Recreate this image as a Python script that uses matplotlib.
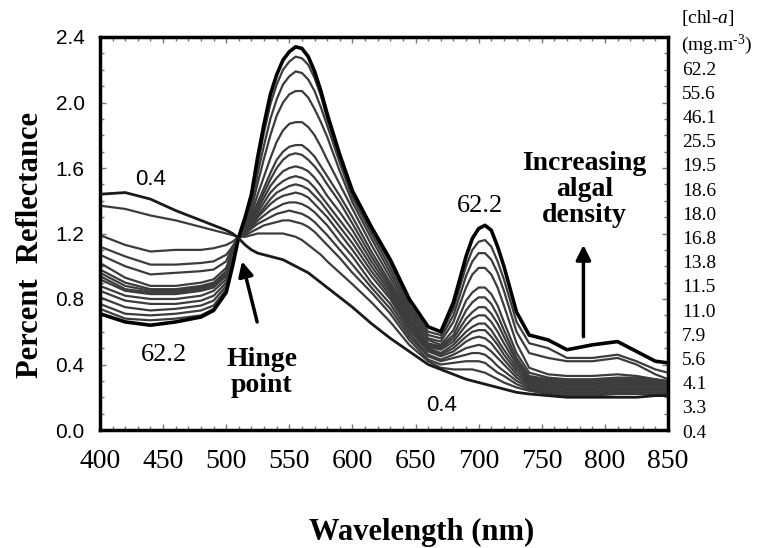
import matplotlib
matplotlib.use('Agg')
import matplotlib.pyplot as plt
from matplotlib.ticker import MultipleLocator

plt.rcParams['font.family'] = 'Liberation Serif'
plt.rcParams['mathtext.fontset'] = 'custom'
plt.rcParams['mathtext.rm'] = 'Liberation Serif'
plt.rcParams['mathtext.it'] = 'Liberation Serif:italic'

# wavelength grid (nm)
wavelength = [400, 420, 440, 460, 480, 490, 500, 505, 510, 515, 520, 525,
              530, 535, 540, 545, 550, 555, 560, 565, 570, 575, 580, 590,
              600, 615, 630, 645, 660, 670, 680, 690, 695, 700, 705, 710,
              715, 720, 730, 740, 755, 770, 790, 810, 825, 840, 850]

# chl-a concentrations (mg.m-3), legend order top to bottom
chl_labels = ['62.2', '55.6', '46.1', '25.5', '19.5', '18.6', '18.0', '16.8',
              '13.8', '11.5', '11.0', '7.9', '5.6', '4.1', '3.3', '0.4']

# percent reflectance for each concentration
r_62_2 = [0.71, 0.66, 0.64, 0.66, 0.69, 0.73, 0.84, 1.00, 1.18, 1.30, 1.44, 1.67,
          1.87, 2.05, 2.17, 2.26, 2.31, 2.34, 2.33, 2.28, 2.19, 2.07, 1.93, 1.68,
          1.46, 1.24, 1.04, 0.80, 0.63, 0.60, 0.78, 1.06, 1.17, 1.23, 1.25, 1.22,
          1.12, 1.00, 0.72, 0.58, 0.55, 0.49, 0.52, 0.54, 0.48, 0.42, 0.41]
r_55_6 = [0.74, 0.68, 0.67, 0.68, 0.70, 0.74, 0.85, 1.01, 1.18, 1.29, 1.41, 1.62,
          1.82, 1.99, 2.11, 2.20, 2.25, 2.28, 2.27, 2.23, 2.15, 2.04, 1.90, 1.66,
          1.44, 1.22, 1.02, 0.77, 0.60, 0.58, 0.74, 1.00, 1.10, 1.15, 1.16, 1.12,
          1.03, 0.92, 0.66, 0.53, 0.50, 0.44, 0.44, 0.46, 0.42, 0.37, 0.35]
r_46_1 = [0.77, 0.71, 0.70, 0.71, 0.73, 0.76, 0.86, 1.02, 1.18, 1.28, 1.38, 1.57,
          1.74, 1.90, 2.02, 2.11, 2.16, 2.19, 2.18, 2.14, 2.07, 1.97, 1.86, 1.63,
          1.42, 1.20, 0.99, 0.75, 0.58, 0.56, 0.70, 0.94, 1.03, 1.08, 1.08, 1.04,
          0.96, 0.85, 0.60, 0.47, 0.44, 0.42, 0.42, 0.44, 0.40, 0.34, 0.31]
r_25_5 = [0.81, 0.75, 0.73, 0.74, 0.76, 0.79, 0.88, 1.03, 1.18, 1.26, 1.35, 1.51,
          1.66, 1.80, 1.92, 2.00, 2.05, 2.07, 2.07, 2.03, 1.96, 1.88, 1.79, 1.58,
          1.39, 1.17, 0.96, 0.73, 0.56, 0.54, 0.66, 0.87, 0.95, 0.99, 0.99, 0.95,
          0.87, 0.76, 0.53, 0.38, 0.34, 0.33, 0.33, 0.34, 0.33, 0.31, 0.30]
r_19_5 = [0.85, 0.79, 0.77, 0.77, 0.79, 0.82, 0.90, 1.04, 1.18, 1.25, 1.32, 1.44,
          1.55, 1.66, 1.76, 1.83, 1.87, 1.88, 1.88, 1.85, 1.80, 1.73, 1.65, 1.50,
          1.35, 1.13, 0.93, 0.71, 0.55, 0.52, 0.61, 0.79, 0.84, 0.87, 0.87, 0.83,
          0.76, 0.66, 0.47, 0.35, 0.32, 0.31, 0.31, 0.32, 0.32, 0.31, 0.29]
r_18_6 = [0.88, 0.82, 0.80, 0.80, 0.82, 0.85, 0.92, 1.05, 1.18, 1.24, 1.30, 1.39,
          1.48, 1.57, 1.65, 1.70, 1.73, 1.74, 1.74, 1.71, 1.67, 1.61, 1.55, 1.43,
          1.30, 1.09, 0.90, 0.69, 0.53, 0.51, 0.58, 0.73, 0.78, 0.81, 0.81, 0.77,
          0.70, 0.61, 0.44, 0.33, 0.31, 0.30, 0.30, 0.31, 0.31, 0.30, 0.29]
r_18_0 = [0.92, 0.85, 0.83, 0.83, 0.85, 0.87, 0.94, 1.06, 1.18, 1.23, 1.29, 1.37,
          1.45, 1.53, 1.60, 1.65, 1.68, 1.69, 1.68, 1.65, 1.61, 1.56, 1.50, 1.39,
          1.26, 1.06, 0.88, 0.67, 0.52, 0.50, 0.56, 0.68, 0.72, 0.75, 0.75, 0.71,
          0.65, 0.57, 0.42, 0.32, 0.30, 0.29, 0.29, 0.30, 0.30, 0.29, 0.28]
r_16_8 = [0.94, 0.86, 0.84, 0.84, 0.86, 0.88, 0.95, 1.07, 1.18, 1.23, 1.28, 1.35,
          1.42, 1.49, 1.54, 1.58, 1.60, 1.61, 1.60, 1.58, 1.54, 1.49, 1.43, 1.33,
          1.22, 1.03, 0.86, 0.66, 0.51, 0.49, 0.54, 0.64, 0.68, 0.70, 0.70, 0.66,
          0.60, 0.53, 0.40, 0.31, 0.29, 0.28, 0.28, 0.29, 0.29, 0.28, 0.28]
r_13_8 = [0.96, 0.88, 0.85, 0.85, 0.87, 0.89, 0.96, 1.08, 1.18, 1.22, 1.27, 1.33,
          1.39, 1.45, 1.49, 1.52, 1.54, 1.55, 1.54, 1.52, 1.48, 1.43, 1.38, 1.28,
          1.18, 1.00, 0.84, 0.64, 0.50, 0.47, 0.52, 0.60, 0.63, 0.65, 0.65, 0.61,
          0.55, 0.49, 0.38, 0.30, 0.28, 0.27, 0.27, 0.28, 0.28, 0.28, 0.27]
r_11_5 = [0.98, 0.90, 0.86, 0.86, 0.88, 0.90, 0.97, 1.09, 1.18, 1.22, 1.26, 1.31,
          1.36, 1.41, 1.45, 1.47, 1.49, 1.50, 1.49, 1.47, 1.43, 1.39, 1.34, 1.24,
          1.14, 0.97, 0.82, 0.63, 0.49, 0.46, 0.50, 0.57, 0.60, 0.61, 0.61, 0.57,
          0.52, 0.46, 0.36, 0.29, 0.27, 0.26, 0.26, 0.27, 0.27, 0.27, 0.27]
r_11_0 = [1.02, 0.93, 0.88, 0.88, 0.90, 0.92, 0.99, 1.10, 1.18, 1.22, 1.25, 1.30,
          1.34, 1.38, 1.41, 1.43, 1.44, 1.45, 1.44, 1.42, 1.38, 1.34, 1.30, 1.20,
          1.10, 0.94, 0.80, 0.61, 0.48, 0.45, 0.48, 0.54, 0.56, 0.57, 0.56, 0.53,
          0.48, 0.43, 0.34, 0.28, 0.26, 0.25, 0.25, 0.26, 0.26, 0.26, 0.26]
r_7_9 = [1.07, 1.00, 0.95, 0.96, 0.97, 0.98, 1.03, 1.12, 1.18, 1.21, 1.24, 1.28,
         1.31, 1.34, 1.36, 1.38, 1.39, 1.39, 1.38, 1.36, 1.33, 1.29, 1.25, 1.15,
         1.06, 0.90, 0.77, 0.59, 0.46, 0.43, 0.46, 0.50, 0.51, 0.52, 0.51, 0.48,
         0.44, 0.40, 0.32, 0.27, 0.25, 0.24, 0.24, 0.25, 0.25, 0.25, 0.25]
r_5_6 = [1.12, 1.06, 1.01, 1.01, 1.02, 1.03, 1.07, 1.12, 1.18, 1.20, 1.23, 1.26,
         1.28, 1.30, 1.32, 1.33, 1.34, 1.33, 1.32, 1.30, 1.27, 1.23, 1.19, 1.10,
         1.01, 0.87, 0.74, 0.57, 0.45, 0.42, 0.44, 0.46, 0.47, 0.47, 0.46, 0.43,
         0.39, 0.36, 0.30, 0.26, 0.24, 0.23, 0.23, 0.24, 0.24, 0.24, 0.24]
r_4_1 = [1.19, 1.13, 1.09, 1.10, 1.10, 1.11, 1.13, 1.15, 1.18, 1.19, 1.21, 1.23,
         1.25, 1.26, 1.27, 1.28, 1.28, 1.27, 1.26, 1.24, 1.21, 1.17, 1.13, 1.05,
         0.96, 0.84, 0.71, 0.55, 0.43, 0.40, 0.41, 0.42, 0.42, 0.42, 0.41, 0.38,
         0.35, 0.33, 0.28, 0.25, 0.23, 0.22, 0.22, 0.23, 0.23, 0.23, 0.23]
r_3_3 = [1.37, 1.35, 1.31, 1.28, 1.24, 1.22, 1.20, 1.19, 1.18, 1.18, 1.19, 1.20,
         1.20, 1.20, 1.20, 1.20, 1.19, 1.18, 1.16, 1.13, 1.10, 1.07, 1.03, 0.96,
         0.89, 0.78, 0.66, 0.52, 0.42, 0.38, 0.37, 0.37, 0.37, 0.36, 0.35, 0.33,
         0.31, 0.29, 0.26, 0.24, 0.22, 0.21, 0.21, 0.22, 0.22, 0.22, 0.22]
r_0_4 = [1.44, 1.45, 1.41, 1.34, 1.28, 1.25, 1.22, 1.20, 1.17, 1.13, 1.10, 1.08,
         1.07, 1.06, 1.05, 1.04, 1.02, 1.00, 0.98, 0.96, 0.93, 0.90, 0.87, 0.81,
         0.75, 0.65, 0.56, 0.48, 0.40, 0.37, 0.34, 0.31, 0.30, 0.29, 0.28, 0.27,
         0.26, 0.25, 0.23, 0.22, 0.21, 0.20, 0.20, 0.20, 0.20, 0.21, 0.21]

spectra = [r_62_2, r_55_6, r_46_1, r_25_5, r_19_5, r_18_6, r_18_0, r_16_8,
           r_13_8, r_11_5, r_11_0, r_7_9, r_5_6, r_4_1, r_3_3, r_0_4]

yticks = [0.0, 0.4, 0.8, 1.2, 1.6, 2.0, 2.4]
xticks = [400, 450, 500, 550, 600, 650, 700, 750, 800, 850]

fig = plt.figure(figsize=(7.58, 5.48), dpi=100)
ax = fig.add_axes([100 / 758, 1 - 430 / 548, 568 / 758, 393 / 548])

for lab, r in zip(chl_labels, spectra):
    if lab == '62.2':
        ax.plot(wavelength, r, color='black', lw=2.6, zorder=3)
    elif lab == '0.4':
        ax.plot(wavelength, r, color='#1a1a1a', lw=2.0, zorder=3)
    else:
        ax.plot(wavelength, r, color='#3c3c3c', lw=1.6)

ax.set_xlim(400, 850)
ax.set_ylim(0, 2.4)
ax.set_xticks(xticks, labels=[str(x) for x in xticks], fontsize=20)
ax.set_yticks(yticks, labels=['%.1f' % y for y in yticks],
              fontfamily='Liberation Sans', fontsize=15)
ax.xaxis.set_minor_locator(MultipleLocator(10))
ax.yaxis.set_minor_locator(MultipleLocator(0.1))
ax.tick_params(which='both', direction='in', top=True, right=True,
               color='#777777', width=1)
ax.tick_params(which='major', length=4)
ax.tick_params(which='minor', length=3)
ax.tick_params(axis='x', pad=14)
ax.tick_params(axis='y', pad=11)
for s in ax.spines.values():
    s.set_linewidth(2.5)

# axis titles
ax.text(-0.122, 0.47, 'Percent  Reflectance', transform=ax.transAxes,
        rotation=90, ha='center', va='center', fontsize=22, fontweight='bold')
ax.text(0.567, -0.26, 'Wavelength (nm)', transform=ax.transAxes,
        ha='center', va='center', fontsize=22, fontweight='bold')

# annotations in the plot
ax.text(440, 1.53, '0.4', fontfamily='Liberation Sans', fontsize=16,
        ha='center', va='center')
ax.text(451, 0.46, '62.2', fontsize=19, ha='center', va='center')
ax.text(528, 0.35, 'Hinge\npoint', fontsize=20, fontweight='bold',
        ha='center', va='center', linespacing=1.05)
ax.text(701, 1.37, '62.2', fontsize=19, ha='center', va='center')
ax.text(784, 1.47, 'Increasing\nalgal\ndensity', fontsize=20, fontweight='bold',
        ha='center', va='center', linespacing=1.05)
ax.text(671, 0.15, '0.4', fontfamily='Liberation Sans', fontsize=16,
        ha='center', va='center')

arrow = dict(arrowstyle='-|>', lw=2.5, color='black', mutation_scale=22,
             shrinkA=0, shrinkB=0)
ax.annotate('', xy=(512.5, 1.03), xytext=(524.5, 0.66), arrowprops=arrow)
ax.annotate('', xy=(783, 1.13), xytext=(783, 0.57), arrowprops=arrow)

# concentration key on the right
ax.text(1.023, 1.048, '[chl-$a$]', transform=ax.transAxes, fontsize=14,
        ha='left', va='center')
ax.text(1.023, 0.98, '(mg.m$^{\\text{-3}}$)', transform=ax.transAxes,
        fontsize=14, ha='left', va='center')
for i, lab in enumerate(chl_labels):
    ax.text(1.025, 0.916 - i * 0.0616, lab, transform=ax.transAxes,
            fontsize=14, ha='left', va='center')

fig.savefig('out.png', dpi=100, facecolor='white')
